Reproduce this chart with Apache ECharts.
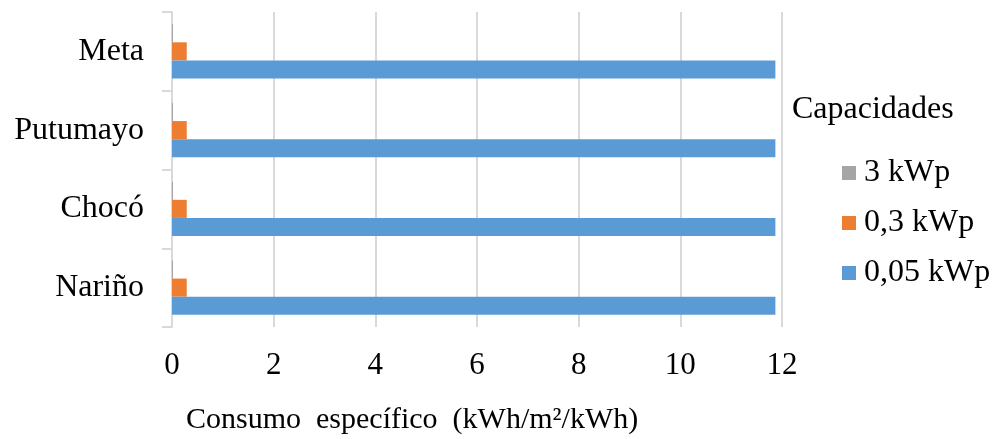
<!DOCTYPE html>
<html>
<head>
<meta charset="utf-8">
<script src="https://cdn.jsdelivr.net/npm/echarts@6/dist/echarts.min.js"></script>
<style>
  html, body { margin: 0; padding: 0; background: #fff; }
  #chart { width: 997px; height: 439px; }
</style>
</head>
<body>
<div id="chart"></div>
<script>
// Departamentos (bottom to top)
const categories = ['Nariño', 'Chocó', 'Putumayo', 'Meta'];
// Consumo específico por capacidad instalada
const cap005 = [11.87, 11.87, 11.87, 11.87]; // 0,05 kWp
const cap03 = [0.29, 0.29, 0.29, 0.29];      // 0,3 kWp
const cap3 = [0.02, 0.02, 0.02, 0.02];       // 3 kWp
const xTicks = { min: 0, max: 12, interval: 2 };

const FONT = '"Liberation Serif", "Times New Roman", serif';
const GRID = '#d9d9d9';

const chart = echarts.init(document.getElementById('chart'), null, { renderer: 'canvas' });
chart.setOption({
  animation: false,
  backgroundColor: '#ffffff',
  textStyle: { fontFamily: FONT, color: '#000' },
  grid: { left: 172, right: 215, top: 12, bottom: 112, containLabel: false },
  title: {
    text: 'Capacidades',
    left: 792,
    top: 94,
    padding: 0,
    textStyle: { fontFamily: FONT, fontSize: 32, fontWeight: 'normal', color: '#000' }
  },
  legend: {
    orient: 'vertical',
    left: 842,
    top: 157,
    padding: 0,
    itemWidth: 14,
    itemHeight: 14,
    itemGap: 18,
    icon: 'rect',
    data: ['3 kWp', '0,3 kWp', '0,05 kWp'],
    textStyle: { fontFamily: FONT, fontSize: 32, color: '#000', lineHeight: 32, padding: [0, 0, 0, 3] }
  },
  xAxis: {
    type: 'value',
    min: xTicks.min,
    max: xTicks.max,
    interval: xTicks.interval,
    axisLine: { show: false },
    axisTick: { show: false },
    splitLine: { show: true, lineStyle: { color: GRID, width: 2 } },
    axisLabel: { fontFamily: FONT, fontSize: 31, color: '#000', margin: 23 }
  },
  yAxis: {
    type: 'category',
    data: categories,
    axisLine: { show: true, lineStyle: { color: GRID, width: 2 } },
    axisTick: { show: true, length: 10, lineStyle: { color: GRID, width: 2 } },
    axisLabel: { fontFamily: FONT, fontSize: 32, color: '#000', margin: 28 }
  },
  graphic: [{
    type: 'text',
    left: 186,
    top: 405,
    style: {
      text: 'Consumo  específico  (kWh/m²/kWh)',
      font: '30px "Liberation Serif", "Times New Roman", serif',
      fill: '#000'
    }
  }],
  // series drawn top-down within each band: 3 kWp, 0,3 kWp, 0,05 kWp
  series: [
    { name: '3 kWp', type: 'bar', data: cap3, itemStyle: { color: '#a5a5a5' }, barGap: '0%', barCategoryGap: '31%' },
    { name: '0,3 kWp', type: 'bar', data: cap03, itemStyle: { color: '#ed7d31' }, barGap: '0%', barCategoryGap: '31%' },
    { name: '0,05 kWp', type: 'bar', data: cap005, itemStyle: { color: '#5b9bd5' }, barGap: '0%', barCategoryGap: '31%' }
  ]
});
</script>
</body>
</html>
